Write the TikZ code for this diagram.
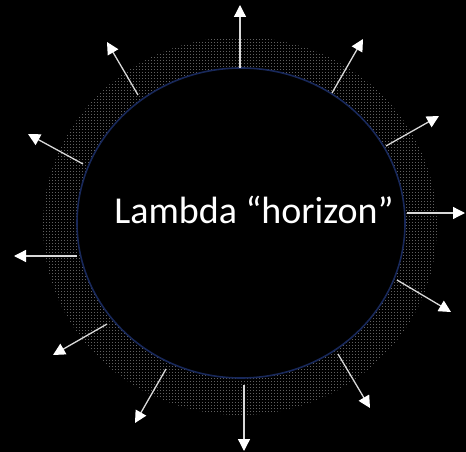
\documentclass[tikz,border=0pt]{standalone}
\usepackage{fontspec}
\setmainfont{Carlito}
\usetikzlibrary{arrows.meta,patterns.meta}
\definecolor{navyrim}{HTML}{18285A}
\tikzdeclarepattern{name=bandgrid, type=uncolored,
  bounding box={(0pt,0pt) and (3.4pt,3.4pt)}, tile size={(3.4pt,3.4pt)},
  code={\pgfpathrectangle{\pgfpointorigin}{\pgfpoint{1pt}{1pt}}\pgfusepath{fill}}}

\begin{document}
\begin{tikzpicture}[x=1pt, y=-1pt,
  ring/.style={pattern=bandgrid, pattern color=gray!75!black, even odd rule},
  rim/.style={draw=navyrim, line width=1.6pt},
  ray/.style={draw=white!85!black, line width=1.3pt,
              -{Triangle[length=12pt, width=12pt, color=white]}},
  lbl/.style={text=white, font=\fontsize{38}{42}\selectfont}]
\fill[black] (0,0) rectangle (466,452);
\useasboundingbox (0,0) rectangle (466,452);
% dotted band round the horizon
\fill[ring] (240,226) ellipse [x radius=197, y radius=189]
            (241,223) ellipse [x radius=164, y radius=155];
\draw[rim] (241,223) ellipse [x radius=164, y radius=155];
\node[lbl] (horizon) at (254,210) {Lambda “horizon”};
% outgoing rays
\foreach \n/\sx/\sy/\tx/\ty in {1/240/68/240/5, 2/332/93/363/39, 3/386/146/439/116,
    4/407/213/465/213, 5/397/280/451/312, 6/338/354/370/408, 7/244/385/244/451,
    8/166/369/135/423, 9/107/324/53/355, 10/77/256/14/256, 11/83/164/28/134,
    12/138/95/107/42} {
  \coordinate (s\n) at (\sx,\sy);
  \coordinate (t\n) at (\tx,\ty);
  \draw[ray] (s\n) -- (t\n);
}
\end{tikzpicture}
\end{document}
